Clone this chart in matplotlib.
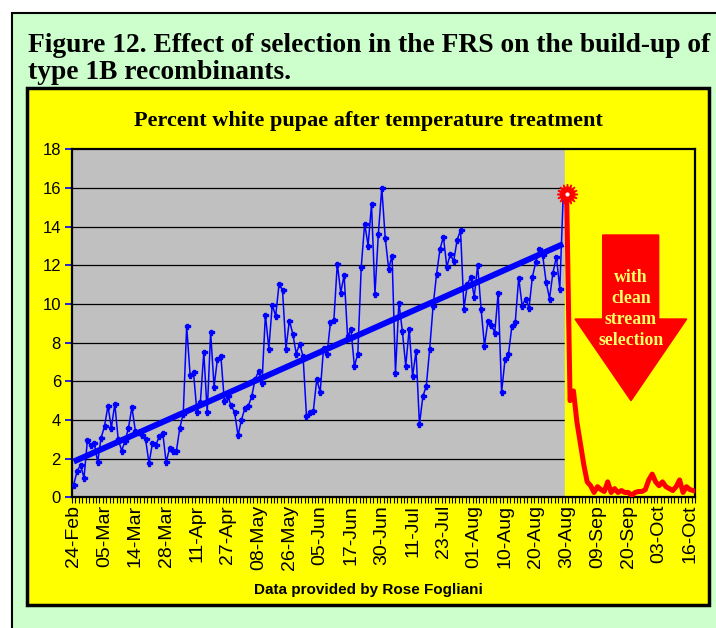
import matplotlib
matplotlib.use("Agg")
import matplotlib.pyplot as plt
import numpy as np
from matplotlib.patches import Rectangle, Polygon

plt.rcParams["font.family"] = ["Liberation Sans", "DejaVu Sans"]

# dates written on the category axis, one label every 9 samples
date_labels = ["24-Feb", "05-Mar", "14-Mar", "28-Mar", "11-Apr", "27-Apr", "08-May",
               "26-May", "05-Jun", "17-Jun", "30-Jun", "11-Jul", "23-Jul", "01-Aug",
               "10-Aug", "20-Aug", "30-Aug", "09-Sep", "20-Sep", "03-Oct", "16-Oct"]
label_every = 9

# percent white pupae, samples before clean stream selection
before = [0.66, 1.35, 1.68, 1.0, 2.94, 2.73, 2.8, 1.83, 3.07, 3.68,
          4.72, 3.59, 4.84, 2.99, 2.42, 2.9, 3.6, 4.65, 3.45, 3.4,
          3.2, 2.99, 1.76, 2.8, 2.71, 3.16, 3.35, 1.81, 2.54, 2.38,
          2.4, 3.59, 4.32, 8.84, 6.34, 6.46, 4.4, 4.92, 7.5, 4.39,
          8.53, 5.73, 7.17, 7.29, 4.98, 5.22, 4.75, 4.39, 3.2, 4.0,
          4.61, 4.72, 5.22, 6.11, 6.51, 5.92, 9.45, 7.69, 9.95, 9.38,
          11.05, 10.71, 7.69, 9.14, 8.46, 7.43, 7.94, 7.29, 4.21, 4.4,
          4.46, 6.1, 5.44, 7.74, 7.39, 9.05, 9.15, 12.09, 10.59, 11.49,
          8.32, 8.69, 6.77, 7.43, 11.92, 14.16, 13.02, 15.15, 10.5, 13.64,
          16.01, 13.42, 11.83, 12.49, 6.44, 10.07, 8.6, 6.79, 8.72, 6.25,
          7.56, 3.77, 5.22, 5.75, 7.69, 9.91, 11.54, 12.83, 13.47, 11.92,
          12.56, 12.21, 13.3, 13.82, 9.76, 11.02, 11.4, 10.36, 12.0, 9.76,
          7.84, 9.1, 8.93, 8.51, 10.57, 5.44, 7.13, 7.39, 8.84, 9.07,
          11.36, 9.9, 10.28, 9.79, 11.4, 12.18, 12.82, 12.52, 11.14, 10.28,
          11.61, 12.44, 10.79, 15.6]

# linear trend of the 'before' samples, as drawn in the original (first, last)
trend_ends = [1.85, 13.1]

# samples after clean stream selection started
after = [15.7, 5.0, 5.5, 3.9, 2.8, 1.7, 0.8, 0.6, 0.25, 0.55,
         0.4, 0.3, 0.8, 0.25, 0.45, 0.25, 0.35, 0.25, 0.25, 0.1,
         0.25, 0.3, 0.3, 0.4, 0.9, 1.2, 0.8, 0.6, 0.8, 0.55,
         0.45, 0.35, 0.55, 0.9, 0.25, 0.55, 0.4, 0.35]

W, H = 716, 628


def fx(px):
    return px / W


def fy(py):
    return 1 - py / H


fig = plt.figure(figsize=(W / 100, H / 100), dpi=100)
fig.patch.set_facecolor("white")

# green page and yellow chart panel
fig.add_artist(Rectangle((fx(12), -0.05), 1.0, fy(13) + 0.05, transform=fig.transFigure,
                         facecolor="#CCFFCC", edgecolor="black", lw=1.5, zorder=-3))
fig.add_artist(Rectangle((fx(27), fy(605)), fx(709) - fx(27), fy(88) - fy(605),
                         transform=fig.transFigure, facecolor="#FFFF00",
                         edgecolor="black", lw=2.5, zorder=-2))

fig.text(fx(28), fy(33), "Figure 12. Effect of selection in the FRS on the build-up of\n"
         "type 1B recombinants.", family="Liberation Serif", weight="bold",
         size=19.8, ha="left", va="top", linespacing=1.13)
fig.text(fx(368), fy(121), "Percent white pupae after temperature treatment",
         family="Liberation Serif", weight="bold", size=16, ha="center", va="center")
fig.text(fx(368), fy(590), "Data provided by Rose Fogliani", weight="bold",
         size=11, ha="center", va="center")

ax = fig.add_axes([fx(72), fy(497.3), (695 - 72) / W, (497.3 - 149.3) / H])
ax.set_facecolor("#C0C0C0")

n_before = len(before)
n_total = n_before + len(after) - 1
x_before = np.arange(n_before)
x_after = np.arange(n_before, n_total + 1)

for v in range(2, 18, 2):
    ax.axhline(v, color="black", lw=0.9, zorder=1)

# region after selection started
ax.axvspan(n_before - 0.5, n_total + 0.5, color="#FFFF00", zorder=2)

ax.plot(x_before, before, color="#0000FF", lw=1.1, marker="P", ms=3.6, zorder=3)
ax.plot([0, n_before - 1], trend_ends, color="#0000FF", lw=4.3,
        solid_capstyle="butt", zorder=4)

ax.plot(x_after, after, color="#FF0000", lw=3.6, solid_joinstyle="round", zorder=5)
ax.plot(x_after[0], after[0], marker=(16, 1, 0), ms=15, color="#FF0000", zorder=6)
ax.plot(x_after[0], after[0], marker="o", ms=2, color="white", zorder=7)

ax.set_xlim(-0.5, n_total + 0.5)
ax.set_ylim(0, 18)
ax.set_yticks(range(0, 19, 2))
ax.tick_params(axis="y", color="#0000FF", labelcolor="black", length=5, width=1.2,
               labelsize=12, pad=3)
ax.set_xticks(np.arange(len(date_labels)) * label_every)
ax.set_xticklabels(date_labels, rotation=90)
ax.set_xticks(np.arange(-0.5, n_total + 1), minor=True)
ax.tick_params(axis="x", which="major", length=0, labelsize=14, pad=5.5)
ax.tick_params(axis="x", which="minor", length=4, width=0.8, color="black")
for s in ax.spines.values():
    s.set_color("black")
    s.set_linewidth(1.6)

# big red arrow
arrow_px = [(602.7, 235), (658.7, 235), (658.7, 319), (686.7, 319), (631, 400.7),
            (575, 319), (602.7, 319)]
fig.add_artist(Polygon([(fx(a), fy(b)) for a, b in arrow_px], closed=True,
                       transform=fig.transFigure, facecolor="#FF0000",
                       edgecolor="#FF0000", zorder=5))
fig.text(fx(631), fy(309), "with\nclean\nstream\nselection", family="Liberation Serif",
         weight="bold", size=12.8, color="#FFFF66", ha="center", va="center",
         linespacing=1.3, zorder=6)

fig.savefig("out.png", dpi=100)
